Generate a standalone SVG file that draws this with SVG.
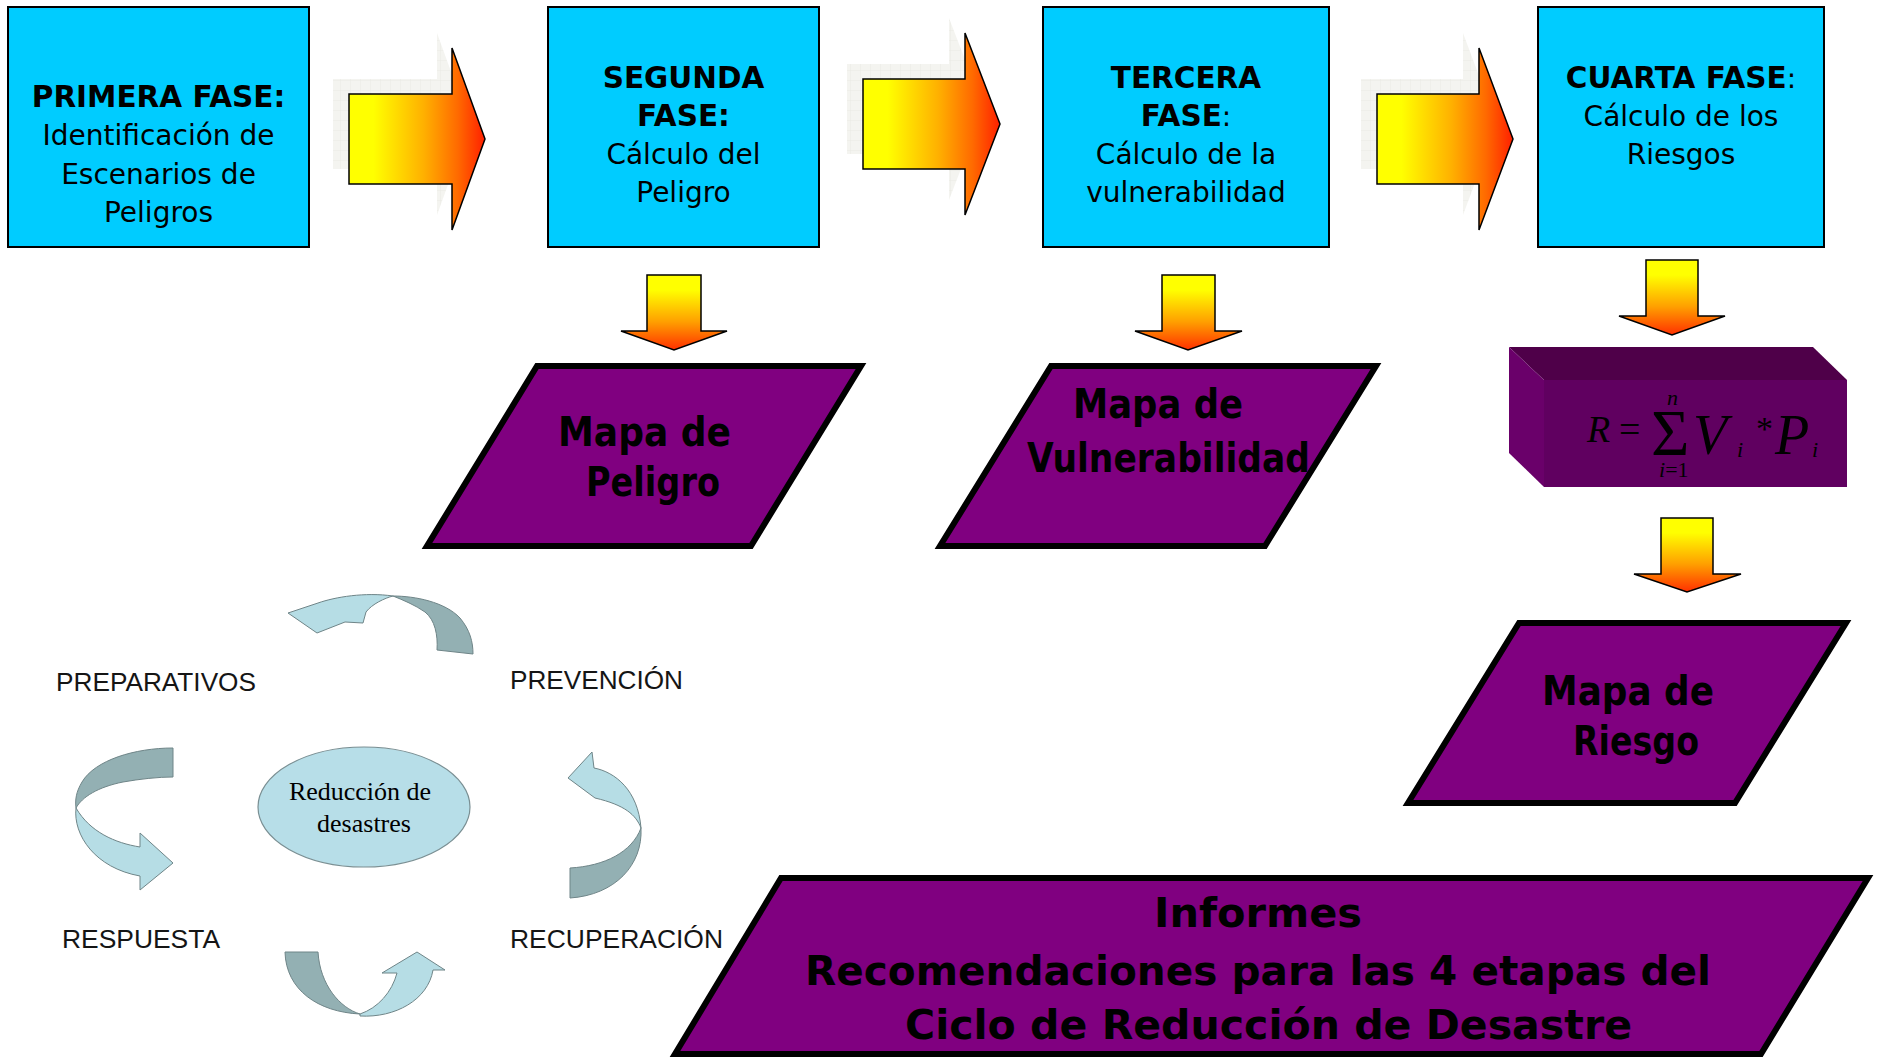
<svg xmlns="http://www.w3.org/2000/svg" width="1879" height="1059" viewBox="0 0 1879 1059">
<defs>
<linearGradient id="hg" x1="0" y1="0" x2="1" y2="0">
<stop offset="0" stop-color="#ffff00"/><stop offset="0.18" stop-color="#ffff00"/><stop offset="0.55" stop-color="#ffb000"/><stop offset="0.8" stop-color="#ff6a00"/><stop offset="1" stop-color="#ff2000"/>
</linearGradient>
<linearGradient id="vg" x1="0" y1="0" x2="0" y2="1">
<stop offset="0" stop-color="#ffff00"/><stop offset="0.2" stop-color="#ffff00"/><stop offset="0.62" stop-color="#ffa000"/><stop offset="1" stop-color="#ff3000"/>
</linearGradient>
<pattern id="grid" width="10" height="10" patternUnits="userSpaceOnUse">
<rect width="10" height="10" fill="#f4f4f0"/><path d="M0 0H10M0 0V10" stroke="#eaeae5" stroke-width="1"/>
</pattern>
<style>
.phase{fill:#00ccff;stroke:#000;stroke-width:2}
.ptxt{font-family:"DejaVu Sans","Liberation Sans",sans-serif;font-size:28px;fill:#000;text-anchor:middle}
.b{font-weight:bold;font-size:29.5px}
.para{fill:#800080;stroke:#000;stroke-width:6;stroke-linejoin:miter}
.mtxt{font-family:"DejaVu Sans","Liberation Sans",sans-serif;font-weight:bold;font-size:40px;fill:#000}
.harrow{fill:url(#hg);stroke:#000;stroke-width:1.5;stroke-linejoin:miter}
.varrow{fill:url(#vg);stroke:#000;stroke-width:1.5;stroke-linejoin:miter}
.shadow{fill:url(#grid)}
.cl{fill:#b6dde5;stroke:#6f8588;stroke-width:1}
.cd{fill:#93b0b3;stroke:#6f8588;stroke-width:1}
.ctxt{font-family:"Liberation Sans",Arial,sans-serif;font-size:25px;fill:#151515}
.f{font-family:"Liberation Serif","Times New Roman",serif;fill:#000}
</style>
</defs>
<rect width="1879" height="1059" fill="#ffffff"/>

<g id="connectors">
<polygon class="shadow" points="333,79 437,79 437,33 470,124 437,215 437,169 333,169"/>
<polygon class="harrow" points="349,94 452,94 452,48 485,139 452,230 452,184 349,184"/>
<polygon class="shadow" points="847,64 949,64 949,18 984,109 949,200 949,154 847,154"/>
<polygon class="harrow" points="863,79 965,79 965,33 1000,124 965,215 965,169 863,169"/>
<polygon class="shadow" points="1361,79 1463,79 1463,33 1497,124 1463,215 1463,169 1361,169"/>
<polygon class="harrow" points="1377,94 1479,94 1479,48 1513,139 1479,230 1479,184 1377,184"/>
<polygon class="varrow" points="647,275 701,275 701,331 727,331 674,350 621,331 647,331"/>
<polygon class="varrow" points="1162,275 1215,275 1215,331 1242,331 1188,350 1135,331 1162,331"/>
<polygon class="varrow" points="1646,260 1698,260 1698,316 1725,316 1672,335 1619,316 1646,316"/>
<polygon class="varrow" points="1661,518 1713,518 1713,574 1741,574 1687,592 1634,574 1661,574"/>
</g>

<g id="fase1">
<rect class="phase" x="8" y="7" width="301" height="240"/>
<text class="ptxt b" x="158.5" y="107">PRIMERA FASE:</text>
<text class="ptxt" x="158.5" y="145">Identificación de</text>
<text class="ptxt" x="158.5" y="184">Escenarios de</text>
<text class="ptxt" x="158.5" y="222">Peligros</text>
</g>
<g id="fase2">
<rect class="phase" x="548" y="7" width="271" height="240"/>
<text class="ptxt b" x="683.5" y="88">SEGUNDA</text>
<text class="ptxt b" x="683.5" y="126">FASE:</text>
<text class="ptxt" x="683.5" y="164">Cálculo del</text>
<text class="ptxt" x="683.5" y="202">Peligro</text>
</g>
<g id="fase3">
<rect class="phase" x="1043" y="7" width="286" height="240"/>
<text class="ptxt b" x="1186" y="88">TERCERA</text>
<text class="ptxt" x="1186" y="126"><tspan font-weight="bold" font-size="29.5">FASE</tspan>:</text>
<text class="ptxt" x="1186" y="164">Cálculo de la</text>
<text class="ptxt" x="1186" y="202">vulnerabilidad</text>
</g>
<g id="fase4">
<rect class="phase" x="1538" y="7" width="286" height="240"/>
<text class="ptxt" x="1681" y="88"><tspan font-weight="bold" font-size="29.5">CUARTA FASE</tspan>:</text>
<text class="ptxt" x="1681" y="126">Cálculo de los</text>
<text class="ptxt" x="1681" y="164">Riesgos</text>
</g>

<g id="mapa-peligro">
<polygon class="para" points="537,366 861,366 751,546 427,546"/>
<text class="mtxt" x="558" y="446" textLength="173" lengthAdjust="spacingAndGlyphs">Mapa de</text>
<text class="mtxt" x="586" y="496" textLength="134" lengthAdjust="spacingAndGlyphs">Peligro</text>
</g>
<g id="mapa-vulnerabilidad">
<polygon class="para" points="1051,366 1376,366 1265,546 940,546"/>
<text class="mtxt" x="1073" y="418" textLength="170" lengthAdjust="spacingAndGlyphs">Mapa de</text>
<text class="mtxt" x="1027" y="472" textLength="283" lengthAdjust="spacingAndGlyphs">Vulnerabilidad</text>
</g>
<g id="formula">
<polygon points="1509,347 1813,347 1847,380 1544,380" fill="#4f0049"/>
<polygon points="1509,347 1544,380 1544,487 1509,453" fill="#6a006a"/>
<rect x="1544" y="380" width="303" height="107" fill="#600060"/>
<text class="f"><tspan x="1587" y="442" font-size="38" font-style="italic">R</tspan><tspan x="1619" y="442" font-size="38">=</tspan><tspan x="1651" y="455" font-size="66">Σ</tspan><tspan x="1667" y="405" font-size="22" font-style="italic">n</tspan><tspan x="1659" y="477" font-size="22" font-style="italic">i</tspan><tspan font-size="22">=1</tspan><tspan x="1693" y="454" font-size="56" font-style="italic">V</tspan><tspan x="1737" y="457" font-size="22" font-style="italic">i</tspan><tspan x="1756" y="440" font-size="34">*</tspan><tspan x="1775" y="454" font-size="56" font-style="italic">P</tspan><tspan x="1812" y="457" font-size="22" font-style="italic">i</tspan></text>
</g>
<g id="mapa-riesgo">
<polygon class="para" points="1519,623 1846,623 1735,803 1408,803"/>
<text class="mtxt" x="1542" y="705" textLength="172" lengthAdjust="spacingAndGlyphs">Mapa de</text>
<text class="mtxt" x="1573" y="755" textLength="126" lengthAdjust="spacingAndGlyphs">Riesgo</text>
</g>
<g id="informes">
<polygon class="para" points="781,878 1868,878 1761,1054 675,1054" stroke-width="5"/>
<text class="mtxt" x="1154" y="927" font-size="42" textLength="208" lengthAdjust="spacingAndGlyphs">Informes</text>
<text class="mtxt" x="805" y="985" font-size="42" textLength="906" lengthAdjust="spacingAndGlyphs">Recomendaciones para las 4 etapas del</text>
<text class="mtxt" x="905" y="1039" font-size="42" textLength="727" lengthAdjust="spacingAndGlyphs">Ciclo de Reducción de Desastre</text>
</g>

<g id="ciclo">
<g id="ciclo-flechas">
<path class="cl" d="M288,613 L318,603 C335,597 365,592 393,596 C385,598 372,604 366,612 L363,623 L345,622 L317,633 Z"/>
<path class="cd" d="M393,596 C415,596 445,602 460,618 C470,630 473,642 473,654 L437,650 C438,635 435,620 425,612 C415,605 403,600 393,596 Z"/>
<path class="cd" d="M173,748 C135,748 95,760 82,782 C76,792 75,800 76,808 C82,797 98,787 123,782 C140,779 158,777 173,777 Z"/>
<path class="cl" d="M76,808 C73,835 95,868 140,876 L140,890 L173,863 L140,833 L140,847 C115,843 90,832 76,808 Z"/>
<path class="cl" d="M592,752 L594,768 C615,772 638,790 641,828 C636,815 625,805 595,798 L568,778 Z"/>
<path class="cd" d="M641,828 C643,865 615,895 570,898 L570,868 C605,866 632,852 641,828 Z"/>
<path class="cd" d="M285,952 L318,952 C320,985 340,1008 360,1014 C318,1012 286,990 285,952 Z"/>
<path class="cl" d="M360,1016 C395,1018 428,1000 433,970 L445,970 L417,952 L382,973 L397,973 C392,992 378,1008 360,1014 Z"/>
</g>
<g id="reduccion">
<ellipse cx="364" cy="807" rx="106" ry="60" fill="#b7dee8" stroke="#7a8f93" stroke-width="1.2"/>
<text class="f" x="360" y="800" font-size="26" fill="#333" text-anchor="middle">Reducción de</text>
<text class="f" x="364" y="832" font-size="26" fill="#333" text-anchor="middle">desastres</text>
</g>
<text class="ctxt" x="56" y="691" textLength="200" lengthAdjust="spacingAndGlyphs">PREPARATIVOS</text>
<text class="ctxt" x="510" y="689" textLength="173" lengthAdjust="spacingAndGlyphs">PREVENCIÓN</text>
<text class="ctxt" x="62" y="948" textLength="158" lengthAdjust="spacingAndGlyphs">RESPUESTA</text>
<text class="ctxt" x="510" y="948" textLength="213" lengthAdjust="spacingAndGlyphs">RECUPERACIÓN</text>
</g>
</svg>
